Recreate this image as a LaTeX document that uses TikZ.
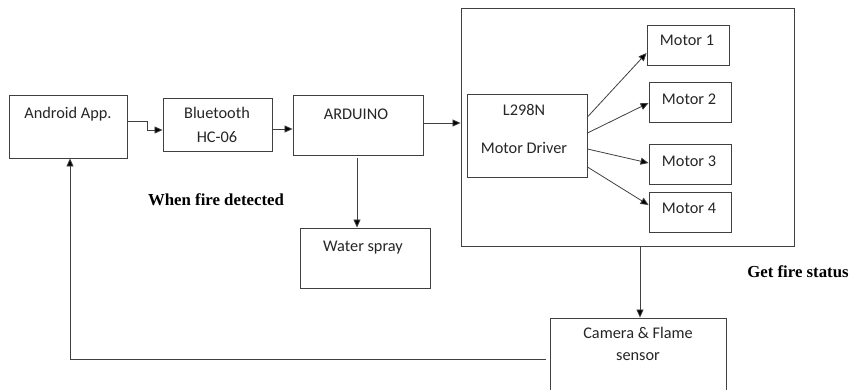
\documentclass[tikz,border=0pt]{standalone}
\usepackage{fontspec}
\setmainfont{Carlito}
\newfontfamily\tnr{Liberation Serif}
\usetikzlibrary{arrows.meta}
\begin{document}
\begin{tikzpicture}[x=1pt,y=-1pt,
  box/.style={draw=black!75, line width=0.9pt, rectangle, inner sep=0pt},
  txt/.style={inner sep=0pt, font=\fontsize{16.3}{19}\selectfont, text=black!85},
  lbl/.style={inner sep=0pt, font=\tnr\bfseries\fontsize{16.8}{19}\selectfont},
  arr/.style={draw=black!75, line width=0.8pt, -{Triangle[length=8pt,width=7pt,fill=black]}},
  ln/.style={draw=black!75, line width=0.8pt}]
\useasboundingbox (0,0) rectangle (854,389);
\fill[white] (0,0) rectangle (854,389);
% boxes
\node[box, minimum width=118, minimum height=63] (android) at (68,126.5) {};
\node[box, minimum width=109, minimum height=53] (bt) at (217.5,124.5) {};
\node[box, minimum width=130, minimum height=60] (ard) at (358,125) {};
\node[box, minimum width=130, minimum height=60] (water) at (365,258) {};
\node[box, minimum width=333, minimum height=238] (outer) at (627.5,127) {};
\node[box, minimum width=120, minimum height=83] (drv) at (527,135.5) {};
\node[box, minimum width=82, minimum height=40] (m1) at (688,45) {};
\node[box, minimum width=82, minimum height=40] (m2) at (690,102) {};
\node[box, minimum width=82, minimum height=40] (m3) at (690,164) {};
\node[box, minimum width=82, minimum height=40] (m4) at (690,212) {};
\node[box, minimum width=176, minimum height=82] (cam) at (638,359) {};
% texts
\node[txt] (androidt) at (68,114) {Android App.};
\node[txt] (btt1) at (217,113) {Bluetooth};
\node[txt] (btt2) at (217,137) {HC-06};
\node[txt] (ardt) at (356,114) {ARDUINO};
\node[txt] (watert) at (363,248) {Water spray};
\node[txt] (drvt1) at (524,110) {L298N};
\node[txt] (drvt2) at (524,148) {Motor Driver};
\node[txt] (m1t) at (687,40) {Motor 1};
\node[txt] (m2t) at (689,99) {Motor 2};
\node[txt] (m3t) at (689,161) {Motor 3};
\node[txt] (m4t) at (689,208) {Motor 4};
\node[txt] (camt1) at (638,333) {Camera \& Flame};
\node[txt] (camt2) at (638,357) {sensor};
\node[lbl] (l1) at (216,200) {When fire detected};
\node[lbl] (l2) at (798,272) {Get fire status};
% connectors
\draw[arr] ([yshift=5.5pt]android.east) -- ++(20,0) |- ([yshift=-5.5pt]bt.west);
\draw[arr] ([yshift=-4.5pt]bt.east) -- ([yshift=-4.5pt]bt.east -| ard.west);
\draw[arr] ([yshift=2pt]ard.east) -- ([yshift=2pt]ard.east -| outer.west);
\draw[arr] ([xshift=-1pt,yshift=-3pt]ard.south) -- ([xshift=-1pt]ard.south |- water.north);
\draw[arr] ([yshift=18.5pt]drv.east) -- ([yshift=-8pt]m1.west);
\draw[arr] ([yshift=2.5pt]drv.east) -- ([yshift=-1pt]m2.west);
\draw[arr] ([yshift=-13.5pt]drv.east) -- ([yshift=1pt]m3.west);
\draw[arr] ([yshift=-31.5pt]drv.east) -- ([yshift=7pt]m4.west);
\draw[arr] ([xshift=12.5pt]outer.south) -- ([xshift=12.5pt]outer.south |- cam.north);
\draw[arr] ([xshift=-4pt]cam.west) -| ([xshift=2pt]android.south);
\end{tikzpicture}
\end{document}
